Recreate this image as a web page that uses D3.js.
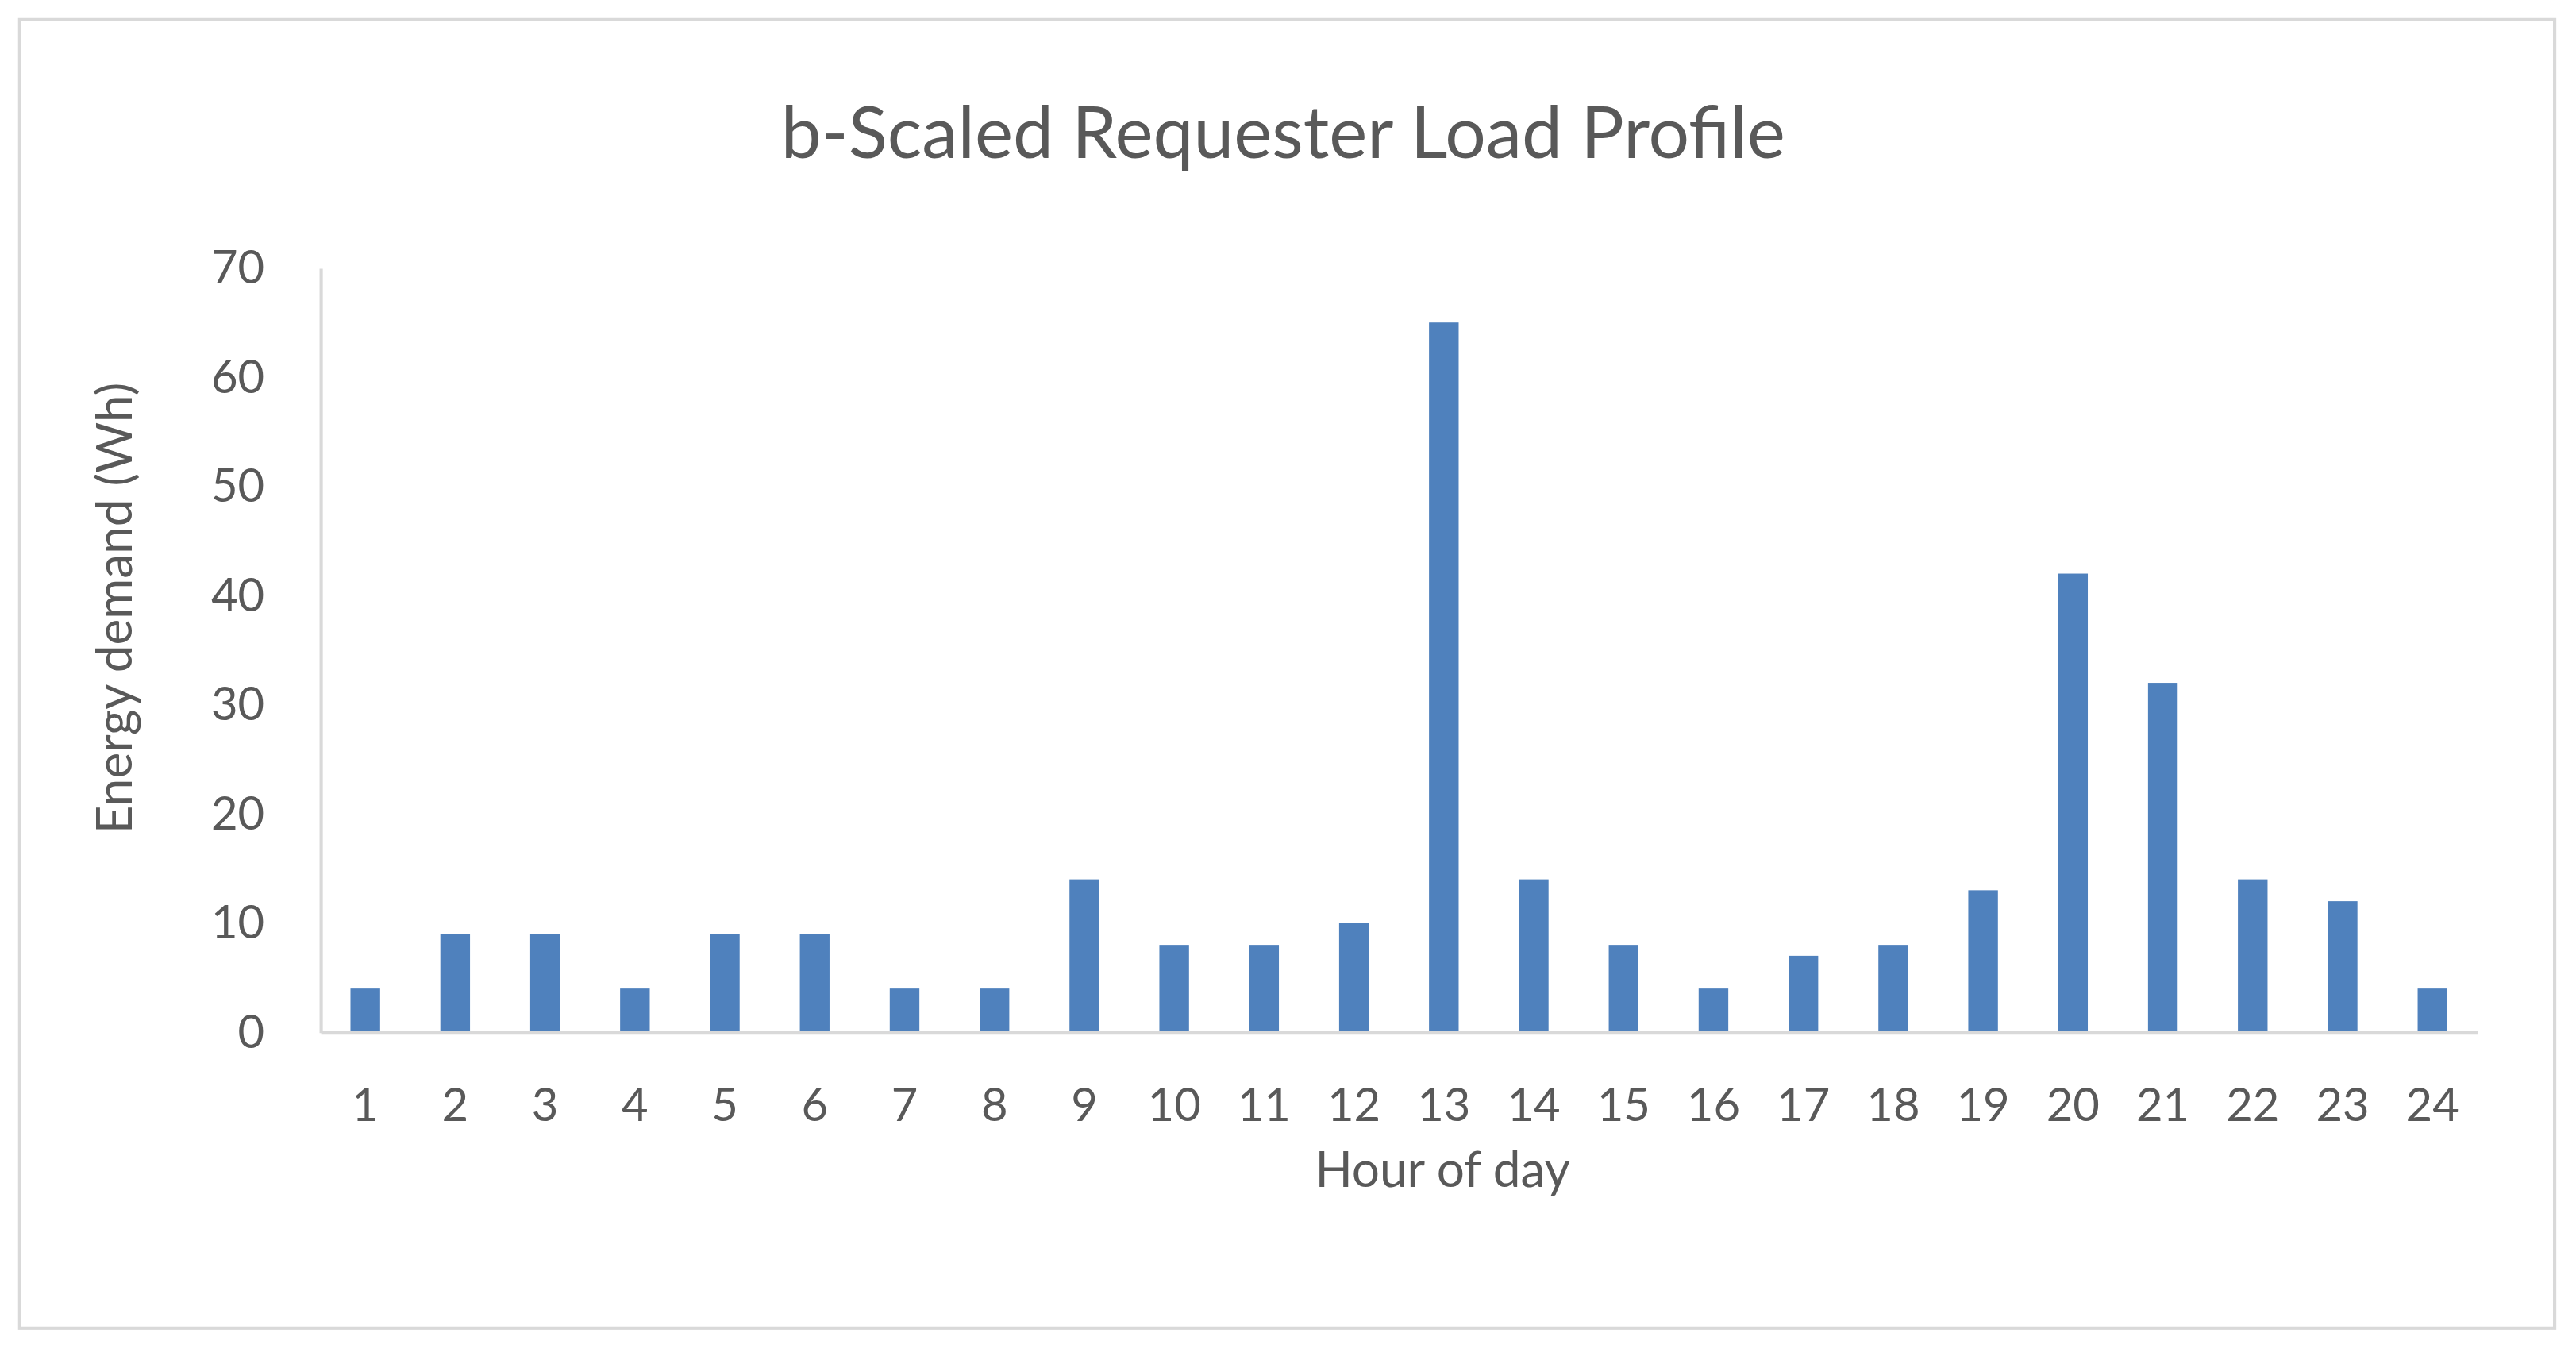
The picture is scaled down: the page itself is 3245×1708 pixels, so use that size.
<!DOCTYPE html>
<html>
<head>
<meta charset="utf-8">
<script src="https://cdn.jsdelivr.net/npm/d3@7"></script>
<style>
  html, body { margin: 0; padding: 0; background: #fff; }
  svg { display: block; }
  text { font-family: Lato, "Open Sans", sans-serif; fill: #595959; }
</style>
</head>
<body>
<div id="chart"></div>
<script>
// Data
const hours = d3.range(1, 25).map(String);
const demand = [4, 9, 9, 4, 9, 9, 4, 4, 14, 8, 8, 10, 65, 14, 8, 4, 7, 8, 13, 42, 32, 14, 12, 4];
const yTicks = [0, 10, 20, 30, 40, 50, 60, 70];

// Layout in a 1568x825 frame, scaled up to the window
const W = 1568, H = 825;
const margin = { top: 163, right: 60, bottom: 197, left: 195 };

const svg = d3.select("#chart")
    .append("svg")
    .attr("width", 3245)
    .attr("height", 1708)
    .attr("viewBox", `0 0 ${W} ${H}`)
    .attr("preserveAspectRatio", "none");

svg.append("rect")
    .attr("x", 12).attr("y", 12)
    .attr("width", 1543).attr("height", 796)
    .attr("fill", "#fff")
    .attr("stroke", "#d9d9d9")
    .attr("stroke-width", 2);

const x = d3.scaleBand()
    .domain(hours)
    .range([margin.left, W - margin.right])
    .paddingInner(0.67)
    .paddingOuter(0.335);

const y = d3.scaleLinear()
    .domain([0, 70])
    .range([H - margin.bottom, margin.top]);

// Bars
svg.selectAll("rect.bar")
    .data(demand)
    .enter()
    .append("rect")
    .attr("class", "bar")
    .attr("x", (d, i) => x(hours[i]))
    .attr("y", d => y(d))
    .attr("width", x.bandwidth())
    .attr("height", d => y(0) - y(d))
    .attr("fill", "#4f81bd");

// Axes
const xAxis = svg.append("g")
    .attr("transform", `translate(0, ${y(0)})`)
    .call(d3.axisBottom(x).tickSize(0).tickPadding(34));
xAxis.select(".domain").attr("stroke", "#d9d9d9").attr("stroke-width", 2);
xAxis.selectAll("text").style("font-size", "28px").attr("fill", "#595959");

const yAxis = svg.append("g")
    .attr("transform", `translate(${margin.left}, 0)`)
    .call(d3.axisLeft(y).tickValues(yTicks).tickSize(0).tickPadding(34));
yAxis.select(".domain").attr("stroke", "#d9d9d9").attr("stroke-width", 2);
yAxis.selectAll("text").style("font-size", "28px").attr("fill", "#595959");

// Title and axis labels
svg.append("text")
    .attr("x", 781).attr("y", 96)
    .attr("text-anchor", "middle")
    .style("font-size", "44px")
    .text("b-Scaled Requester Load Profile");

svg.append("text")
    .attr("x", 878).attr("y", 722)
    .attr("text-anchor", "middle")
    .style("font-size", "30px")
    .text("Hour of day");

svg.append("text")
    .attr("transform", "translate(80, 370) rotate(-90)")
    .attr("text-anchor", "middle")
    .style("font-size", "30px")
    .text("Energy demand (Wh)");
</script>
</body>
</html>
